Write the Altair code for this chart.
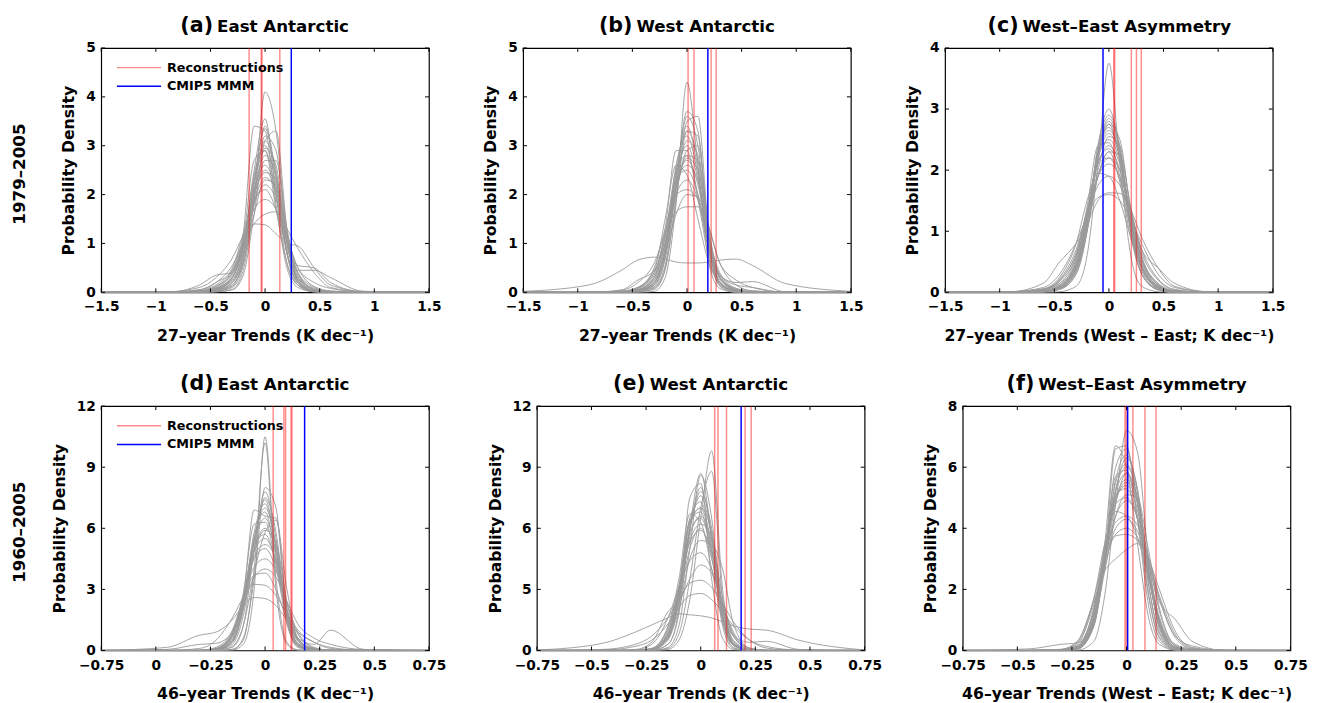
import altair as alt
import pandas as pd

FONT = "DejaVu Sans"

# ---------------- data ----------------
GRID_TOP = [-1.5, -0.9, -0.6, -0.45, -0.3, -0.2, -0.1, 0, 0.1, 0.2, 0.3, 0.45, 0.6, 0.9, 1.5]
GRID_BOT = [-0.75, -0.45, -0.3, -0.225, -0.15, -0.1, -0.05, 0, 0.05, 0.1, 0.15, 0.225, 0.3, 0.45, 0.75]

CURVES_A = [
    [0, 0, 0, 0.01, 0.06, 0.45, 1.9, 4.1, 3.3, 1.2, 0.25, 0.02, 0, 0, 0],
    [0, 0, 0.01, 0.05, 0.3, 1.2, 3.4, 3.3, 1.8, 0.5, 0.1, 0.01, 0, 0, 0],
    [0, 0, 0, 0.02, 0.12, 0.7, 2.2, 3.4, 2.4, 0.8, 0.15, 0.01, 0, 0, 0],
    [0, 0, 0, 0.02, 0.1, 0.55, 2.0, 3.2, 2.9, 1.1, 0.25, 0.02, 0, 0, 0],
    [0, 0, 0.01, 0.04, 0.2, 0.9, 2.4, 3.0, 2.2, 0.85, 0.2, 0.02, 0, 0, 0],
    [0, 0, 0, 0.03, 0.15, 0.6, 1.8, 2.7, 2.7, 1.3, 0.4, 0.05, 0, 0, 0],
    [0, 0, 0.02, 0.08, 0.35, 1.0, 2.1, 2.6, 2.1, 1.0, 0.35, 0.06, 0.01, 0, 0],
    [0, 0, 0.15, 0.35, 0.4, 0.9, 2.0, 2.5, 2.0, 0.8, 0.2, 0.03, 0, 0, 0],
    [0, 0, 0, 0.03, 0.15, 0.6, 1.6, 2.3, 2.2, 1.1, 0.45, 0.45, 0.3, 0.02, 0],
    [0, 0.01, 0.05, 0.15, 0.5, 1.2, 1.9, 2.1, 1.7, 0.9, 0.4, 0.1, 0.02, 0, 0],
    [0, 0, 0.03, 0.12, 0.45, 1.1, 1.7, 1.9, 1.7, 1.1, 0.5, 0.12, 0.03, 0, 0],
    [0, 0, 0.05, 0.2, 0.55, 1.0, 1.4, 1.6, 1.65, 1.3, 0.9, 0.4, 0.1, 0.01, 0],
    [0, 0.01, 0.1, 0.3, 0.7, 1.15, 1.4, 1.38, 1.2, 1.0, 0.95, 0.5, 0.15, 0.02, 0],
    [0, 0, 0, 0.01, 0.05, 0.35, 1.6, 3.1, 3.3, 1.3, 0.2, 0.01, 0, 0, 0],
    [0, 0, 0.05, 0.2, 0.45, 1.1, 2.7, 2.9, 1.7, 0.6, 0.15, 0.02, 0, 0, 0],
    [0, 0, 0.02, 0.08, 0.3, 0.9, 1.8, 2.2, 1.9, 1.0, 0.55, 0.5, 0.2, 0.01, 0],
    [0, 0, 0.01, 0.06, 0.25, 0.8, 2.2, 3.1, 2.5, 1.0, 0.25, 0.03, 0, 0, 0],
    [0, 0, 0, 0.03, 0.2, 0.75, 2.3, 3.35, 2.3, 0.8, 0.2, 0.02, 0, 0, 0],
    [0, 0, 0.02, 0.08, 0.3, 1.0, 2.3, 2.9, 2.0, 0.8, 0.3, 0.08, 0.02, 0, 0],
    [0, 0, 0.01, 0.05, 0.2, 0.7, 1.9, 2.95, 2.6, 1.1, 0.3, 0.03, 0, 0, 0],
    [0, 0, 0.02, 0.1, 0.4, 1.05, 2.0, 2.45, 2.3, 1.2, 0.4, 0.06, 0.01, 0, 0],
    [0, 0, 0.01, 0.06, 0.3, 0.95, 2.5, 3.55, 2.0, 0.6, 0.15, 0.02, 0, 0, 0],
    [0, 0, 0.03, 0.12, 0.4, 0.95, 1.85, 2.35, 2.1, 1.2, 0.5, 0.2, 0.08, 0.01, 0],
    [0, 0, 0.02, 0.07, 0.25, 0.8, 2.05, 2.8, 2.4, 1.05, 0.3, 0.05, 0.01, 0, 0],
]
CURVES_B = [
    [0, 0, 0, 0, 0.02, 0.3, 1.8, 4.3, 2.6, 0.6, 0.08, 0, 0, 0, 0],
    [0, 0, 0, 0.01, 0.08, 0.5, 1.9, 3.5, 3.6, 1.2, 0.2, 0.02, 0, 0, 0],
    [0, 0, 0, 0.02, 0.12, 0.7, 2.3, 3.6, 3.0, 1.0, 0.2, 0.02, 0, 0, 0],
    [0, 0, 0, 0.03, 0.2, 0.9, 2.6, 3.2, 2.4, 0.9, 0.2, 0.02, 0, 0, 0],
    [0, 0, 0.01, 0.05, 0.3, 1.3, 2.9, 2.9, 1.9, 0.7, 0.18, 0.02, 0, 0, 0],
    [0, 0, 0, 0.03, 0.18, 0.8, 2.1, 2.8, 2.7, 1.2, 0.3, 0.04, 0, 0, 0],
    [0, 0, 0, 0.04, 0.25, 0.9, 2.2, 2.7, 2.2, 1.0, 0.35, 0.2, 0.22, 0.01, 0],
    [0, 0, 0.01, 0.08, 0.4, 1.2, 2.3, 2.5, 2.0, 0.95, 0.3, 0.05, 0, 0, 0],
    [0, 0, 0.05, 0.25, 0.45, 1.0, 2.0, 2.3, 1.9, 0.9, 0.3, 0.05, 0, 0, 0],
    [0, 0, 0.02, 0.1, 0.5, 1.3, 2.0, 2.1, 1.9, 1.1, 0.4, 0.08, 0.01, 0, 0],
    [0, 0, 0.04, 0.2, 0.6, 1.2, 1.65, 1.75, 1.75, 1.3, 0.6, 0.15, 0.03, 0, 0],
    [0.02, 0.15, 0.45, 0.66, 0.72, 0.68, 0.62, 0.6, 0.6, 0.62, 0.66, 0.68, 0.55, 0.18, 0.02],
    [0, 0, 0, 0.01, 0.06, 0.45, 1.9, 3.3, 3.2, 1.0, 0.12, 0, 0, 0, 0],
    [0, 0, 0, 0.05, 0.25, 0.8, 1.6, 2.0, 1.95, 1.35, 0.6, 0.25, 0.1, 0, 0],
    [0, 0, 0.02, 0.1, 0.45, 1.5, 2.6, 2.4, 1.5, 0.6, 0.2, 0.03, 0, 0, 0],
    [0, 0, 0, 0.02, 0.1, 0.55, 2.2, 3.7, 3.3, 1.1, 0.15, 0.01, 0, 0, 0],
    [0, 0, 0, 0.03, 0.15, 0.7, 2.2, 3.1, 2.8, 1.0, 0.2, 0.03, 0, 0, 0],
    [0, 0, 0.01, 0.04, 0.2, 0.9, 2.5, 3.4, 2.5, 0.8, 0.15, 0.02, 0, 0, 0],
    [0, 0, 0, 0.02, 0.15, 0.75, 2.0, 2.9, 3.0, 1.3, 0.3, 0.05, 0, 0, 0],
    [0, 0, 0.01, 0.06, 0.3, 1.0, 2.4, 3.0, 2.3, 1.0, 0.3, 0.08, 0.03, 0, 0],
    [0, 0, 0.02, 0.1, 0.4, 1.1, 2.2, 2.6, 2.3, 1.1, 0.35, 0.06, 0.01, 0, 0],
    [0, 0, 0, 0.03, 0.2, 0.85, 2.4, 3.3, 2.7, 0.9, 0.2, 0.02, 0, 0, 0],
    [0, 0, 0.01, 0.05, 0.3, 1.0, 2.1, 2.75, 2.5, 1.15, 0.35, 0.15, 0.1, 0, 0],
    [0, 0, 0.02, 0.08, 0.35, 1.15, 2.5, 2.8, 2.0, 0.85, 0.25, 0.04, 0, 0, 0],
]
CURVES_C = [
    [0, 0, 0, 0.01, 0.1, 0.6, 2.1, 3.75, 2.1, 0.6, 0.1, 0.01, 0, 0, 0],
    [0, 0, 0.01, 0.05, 0.3, 1.0, 2.4, 3.0, 2.3, 1.0, 0.3, 0.04, 0, 0, 0],
    [0, 0, 0.01, 0.06, 0.35, 1.1, 2.4, 2.9, 2.4, 1.1, 0.35, 0.05, 0, 0, 0],
    [0, 0, 0.01, 0.05, 0.3, 1.0, 2.2, 2.75, 2.5, 1.3, 0.45, 0.06, 0, 0, 0],
    [0, 0, 0.02, 0.1, 0.45, 1.2, 2.2, 2.6, 2.2, 1.2, 0.45, 0.08, 0.01, 0, 0],
    [0, 0, 0.03, 0.15, 0.6, 1.4, 2.4, 2.45, 1.9, 1.0, 0.4, 0.08, 0.01, 0, 0],
    [0, 0, 0.02, 0.12, 0.5, 1.3, 2.1, 2.4, 2.1, 1.3, 0.55, 0.12, 0.02, 0, 0],
    [0, 0.01, 0.15, 0.5, 0.8, 1.1, 1.9, 2.3, 1.8, 0.9, 0.3, 0.05, 0, 0, 0],
    [0, 0, 0.01, 0.08, 0.4, 1.1, 1.9, 2.2, 2.0, 1.3, 0.7, 0.4, 0.15, 0.01, 0],
    [0, 0, 0.04, 0.2, 0.65, 1.3, 1.9, 2.1, 1.9, 1.3, 0.65, 0.2, 0.04, 0, 0],
    [0, 0, 0.05, 0.22, 0.7, 1.3, 1.75, 1.9, 1.75, 1.3, 0.7, 0.22, 0.05, 0, 0],
    [0, 0.01, 0.08, 0.3, 0.8, 1.25, 1.55, 1.6, 1.5, 1.2, 0.8, 0.3, 0.08, 0.01, 0],
    [0, 0, 0.05, 0.2, 0.6, 1.1, 1.5, 1.63, 1.62, 1.35, 0.9, 0.4, 0.1, 0.01, 0],
    [0, 0.01, 0.05, 0.15, 0.45, 1.2, 2.3, 2.7, 2.2, 1.0, 0.3, 0.04, 0, 0, 0],
    [0, 0, 0.01, 0.07, 0.35, 1.0, 1.9, 2.3, 2.25, 1.4, 0.6, 0.13, 0.02, 0, 0],
    [0, 0.01, 0.06, 0.25, 0.8, 1.5, 1.95, 1.9, 1.5, 0.9, 0.4, 0.08, 0.01, 0, 0],
    [0, 0, 0.01, 0.07, 0.4, 1.15, 2.3, 2.8, 2.3, 1.15, 0.4, 0.07, 0.01, 0, 0],
    [0, 0, 0.02, 0.09, 0.45, 1.2, 2.25, 2.65, 2.25, 1.15, 0.45, 0.1, 0.02, 0, 0],
    [0, 0, 0.01, 0.06, 0.35, 1.05, 2.3, 2.85, 2.35, 1.1, 0.4, 0.07, 0.01, 0, 0],
    [0, 0, 0.02, 0.1, 0.5, 1.25, 2.2, 2.5, 2.15, 1.2, 0.5, 0.1, 0.02, 0, 0],
    [0, 0, 0.03, 0.12, 0.55, 1.3, 2.15, 2.35, 2.0, 1.2, 0.55, 0.13, 0.02, 0, 0],
    [0, 0, 0.01, 0.08, 0.4, 1.1, 2.0, 2.55, 2.4, 1.35, 0.55, 0.1, 0.01, 0, 0],
    [0, 0.01, 0.04, 0.18, 0.6, 1.35, 2.1, 2.2, 1.85, 1.15, 0.55, 0.15, 0.03, 0, 0],
    [0, 0, 0.02, 0.1, 0.45, 1.2, 2.3, 2.75, 2.2, 1.05, 0.4, 0.1, 0.02, 0, 0],
]
CURVES_D = [
    [0, 0, 0, 0, 0.02, 0.3, 3.0, 10.5, 3.5, 0.4, 0.03, 0, 0, 0, 0],
    [0, 0, 0, 0, 0.05, 0.5, 4.0, 10.2, 3.0, 0.3, 0.02, 0, 0, 0, 0],
    [0, 0, 0, 0, 0.05, 0.6, 3.5, 8.0, 7.0, 1.5, 0.15, 0, 0, 0, 0],
    [0, 0, 0, 0.01, 0.15, 1.2, 5.0, 7.8, 5.5, 1.5, 0.2, 0.01, 0, 0, 0],
    [0, 0, 0, 0.02, 0.5, 2.5, 6.9, 6.6, 6.5, 2.0, 0.3, 0.02, 0, 0, 0],
    [0, 0, 0, 0.02, 0.4, 2.3, 5.8, 7.2, 5.0, 1.6, 0.25, 0.01, 0, 0, 0],
    [0, 0, 0, 0.05, 0.7, 2.8, 6.2, 6.3, 4.2, 1.3, 0.25, 0.02, 0, 0, 0],
    [0, 0, 0, 0.04, 0.5, 2.0, 4.8, 5.9, 5.3, 2.4, 0.6, 0.05, 0, 0, 0],
    [0, 0, 0, 0.08, 0.8, 2.6, 4.9, 5.5, 4.4, 2.0, 0.6, 0.06, 0, 0, 0],
    [0, 0, 0, 0.05, 0.7, 2.4, 4.5, 5.0, 4.0, 1.8, 0.6, 0.3, 1.0, 0.05, 0],
    [0, 0, 0.01, 0.15, 1.0, 2.6, 4.1, 4.5, 3.9, 2.3, 0.9, 0.15, 0.01, 0, 0],
    [0, 0, 0.1, 0.5, 1.6, 2.6, 3.25, 3.2, 2.7, 1.8, 1.0, 0.4, 0.1, 0, 0],
    [0, 0.15, 0.75, 0.9, 1.5, 2.2, 2.6, 2.55, 2.2, 1.5, 0.9, 0.4, 0.15, 0.01, 0],
    [0, 0, 0, 0.1, 0.8, 2.2, 3.6, 4.0, 3.6, 2.4, 1.3, 0.6, 0.3, 0.05, 0],
    [0, 0.05, 0.3, 0.35, 0.9, 2.4, 3.7, 3.8, 3.0, 1.5, 0.5, 0.1, 0.02, 0, 0],
    [0, 0, 0, 0.01, 0.2, 1.2, 3.8, 5.8, 6.4, 3.0, 0.6, 0.03, 0, 0, 0],
    [0, 0, 0, 0.03, 0.4, 2.0, 5.5, 7.0, 5.2, 1.8, 0.35, 0.02, 0, 0, 0],
    [0, 0, 0, 0.02, 0.3, 1.7, 5.0, 7.5, 5.8, 1.6, 0.25, 0.01, 0, 0, 0],
    [0, 0, 0, 0.05, 0.6, 2.4, 5.3, 6.5, 4.8, 1.9, 0.45, 0.04, 0, 0, 0],
    [0, 0, 0, 0.06, 0.7, 2.5, 5.0, 6.0, 4.9, 2.1, 0.5, 0.05, 0, 0, 0],
    [0, 0, 0, 0.04, 0.5, 2.2, 5.6, 6.8, 4.6, 1.6, 0.35, 0.03, 0, 0, 0],
    [0, 0, 0, 0.07, 0.8, 2.7, 5.2, 5.7, 4.3, 1.9, 0.55, 0.08, 0.01, 0, 0],
    [0, 0, 0, 0.03, 0.45, 2.1, 5.4, 7.4, 5.1, 1.5, 0.3, 0.02, 0, 0, 0],
    [0, 0, 0.01, 0.1, 0.9, 2.6, 4.6, 5.2, 4.5, 2.3, 0.8, 0.12, 0.02, 0, 0],
]
CURVES_E = [
    [0, 0, 0, 0, 0.05, 0.5, 2.5, 6.5, 9.8, 3.0, 0.3, 0, 0, 0, 0],
    [0, 0, 0, 0.01, 0.3, 2.0, 7.5, 8.2, 3.5, 0.6, 0.05, 0, 0, 0, 0],
    [0, 0, 0, 0, 0.15, 1.2, 5.0, 8.6, 6.5, 1.5, 0.15, 0, 0, 0, 0],
    [0, 0, 0, 0.01, 0.3, 1.8, 6.0, 8.7, 5.5, 1.2, 0.1, 0, 0, 0, 0],
    [0, 0, 0, 0, 0.1, 0.8, 3.5, 7.0, 8.8, 2.5, 0.3, 0, 0, 0, 0],
    [0, 0, 0, 0.03, 0.6, 2.6, 6.5, 7.3, 5.0, 1.6, 0.25, 0.01, 0, 0, 0],
    [0, 0, 0, 0.05, 0.8, 2.9, 6.2, 7.0, 5.8, 2.2, 0.4, 0.02, 0, 0, 0],
    [0, 0, 0, 0.1, 1.2, 3.5, 6.7, 6.3, 4.0, 1.4, 0.25, 0.01, 0, 0, 0],
    [0, 0, 0, 0.06, 0.8, 2.6, 5.4, 6.2, 5.6, 2.6, 0.7, 0.05, 0, 0, 0],
    [0, 0, 0, 0.05, 0.6, 2.0, 4.5, 5.4, 5.2, 4.0, 1.3, 0.1, 0, 0, 0],
    [0, 0, 0.02, 0.3, 1.6, 3.1, 4.4, 4.8, 4.0, 2.3, 0.9, 0.12, 0.01, 0, 0],
    [0, 0, 0.05, 0.4, 1.9, 2.4, 3.5, 4.2, 3.8, 2.2, 0.8, 0.1, 0, 0, 0],
    [0, 0.05, 0.3, 0.7, 1.6, 2.5, 3.3, 3.45, 3.1, 2.3, 1.4, 0.5, 0.12, 0, 0],
    [0.02, 0.35, 0.9, 1.25, 1.6, 1.8, 1.75, 1.7, 1.6, 1.4, 1.2, 1.05, 1.0, 0.5, 0.02],
    [0, 0.02, 0.2, 0.5, 1.3, 2.1, 2.7, 2.8, 2.5, 1.9, 1.2, 0.5, 0.2, 0.02, 0],
    [0, 0, 0, 0.04, 0.6, 2.3, 5.0, 6.0, 4.5, 2.0, 0.7, 0.4, 0.45, 0.05, 0],
    [0, 0, 0, 0.04, 0.7, 2.8, 6.0, 7.6, 5.5, 1.8, 0.3, 0.01, 0, 0, 0],
    [0, 0, 0, 0.05, 0.8, 3.0, 6.3, 7.0, 5.0, 1.7, 0.3, 0.02, 0, 0, 0],
    [0, 0, 0, 0.03, 0.5, 2.4, 6.0, 8.0, 5.6, 1.6, 0.25, 0.01, 0, 0, 0],
    [0, 0, 0, 0.06, 0.9, 3.2, 6.4, 6.8, 4.6, 1.6, 0.3, 0.02, 0, 0, 0],
    [0, 0, 0, 0.05, 0.7, 2.6, 5.6, 6.6, 5.3, 2.1, 0.45, 0.03, 0, 0, 0],
    [0, 0, 0, 0.08, 1.0, 3.0, 5.8, 6.5, 4.9, 2.0, 0.5, 0.04, 0, 0, 0],
    [0, 0, 0, 0.04, 0.6, 2.5, 5.9, 7.8, 6.0, 2.0, 0.35, 0.02, 0, 0, 0],
    [0, 0, 0.01, 0.1, 1.1, 3.1, 5.3, 5.9, 4.8, 2.3, 0.7, 0.08, 0.01, 0, 0],
]
CURVES_F = [
    [0, 0, 0, 0.01, 0.3, 1.8, 4.8, 7.2, 6.5, 3.0, 0.7, 0.03, 0, 0, 0],
    [0, 0, 0, 0.05, 0.8, 3.0, 6.6, 6.7, 4.3, 1.5, 0.3, 0.01, 0, 0, 0],
    [0, 0, 0, 0.06, 1.0, 3.5, 6.7, 6.0, 3.5, 1.1, 0.2, 0.01, 0, 0, 0],
    [0, 0, 0, 0.05, 0.8, 2.8, 5.3, 6.0, 5.2, 2.6, 0.8, 0.05, 0, 0, 0],
    [0, 0, 0.01, 0.1, 1.1, 3.0, 5.0, 5.6, 5.0, 2.9, 1.0, 0.08, 0, 0, 0],
    [0, 0, 0, 0.08, 0.9, 2.6, 4.4, 5.1, 5.0, 3.3, 1.4, 0.15, 0.01, 0, 0],
    [0, 0, 0.02, 0.15, 1.3, 3.0, 4.4, 4.9, 4.4, 3.0, 1.3, 0.15, 0.02, 0, 0],
    [0, 0, 0.02, 0.2, 1.7, 3.5, 4.55, 4.4, 3.7, 2.4, 1.0, 0.1, 0.01, 0, 0],
    [0, 0, 0.01, 0.12, 1.1, 2.7, 4.0, 4.3, 3.9, 2.8, 1.6, 1.0, 0.3, 0, 0],
    [0, 0, 0.03, 0.25, 1.5, 2.9, 3.8, 4.0, 3.7, 2.9, 1.7, 0.4, 0.05, 0, 0],
    [0, 0, 0.04, 0.3, 1.7, 3.1, 3.75, 3.8, 3.6, 2.9, 1.8, 0.5, 0.08, 0, 0],
    [0, 0, 0.03, 0.3, 1.6, 2.6, 3.0, 3.3, 3.5, 3.0, 2.0, 0.6, 0.1, 0, 0],
    [0, 0.05, 0.2, 0.25, 1.0, 2.8, 4.8, 5.8, 4.8, 2.5, 0.8, 0.06, 0, 0, 0],
    [0, 0, 0, 0.08, 1.0, 2.9, 5.2, 6.3, 5.3, 2.6, 0.9, 0.2, 0.05, 0.01, 0],
    [0, 0, 0.02, 0.15, 1.3, 3.0, 4.2, 4.4, 4.1, 3.1, 1.7, 0.45, 0.15, 0.01, 0],
    [0, 0, 0, 0.04, 0.8, 3.1, 5.7, 5.9, 4.3, 1.8, 0.4, 0.02, 0, 0, 0],
    [0, 0, 0, 0.06, 0.9, 3.0, 5.6, 6.4, 5.2, 2.2, 0.55, 0.03, 0, 0, 0],
    [0, 0, 0, 0.07, 1.0, 3.2, 5.5, 6.1, 4.9, 2.2, 0.6, 0.04, 0, 0, 0],
    [0, 0, 0.01, 0.1, 1.2, 3.2, 5.0, 5.4, 4.6, 2.5, 0.9, 0.08, 0, 0, 0],
    [0, 0, 0, 0.05, 0.9, 3.1, 6.0, 6.6, 4.8, 1.9, 0.45, 0.02, 0, 0, 0],
    [0, 0, 0.01, 0.12, 1.3, 3.3, 5.1, 5.3, 4.3, 2.4, 0.9, 0.1, 0.01, 0, 0],
    [0, 0, 0, 0.06, 0.95, 2.9, 5.2, 5.8, 5.0, 2.6, 0.8, 0.05, 0, 0, 0],
    [0, 0, 0.01, 0.09, 1.1, 3.0, 4.9, 5.5, 4.8, 2.7, 1.0, 0.1, 0.01, 0, 0],
    [0, 0, 0.02, 0.14, 1.4, 3.4, 4.8, 5.0, 4.3, 2.6, 1.1, 0.14, 0.02, 0, 0],
]

RECON_A = [-0.146, -0.035, -0.028, 0.135]
RECON_B = [0.010, 0.064, 0.221, 0.267]
RECON_C = [0.044, 0.053, 0.205, 0.252, 0.296]
RECON_D = [0.037, 0.086, 0.094, 0.119, 0.123]
RECON_E = [0.064, 0.079, 0.118, 0.203, 0.231]
RECON_F = [-0.007, -0.001, 0.029, 0.084, 0.135]
MMM = [0.24, 0.191, -0.054, 0.181, 0.185, 0.005]

XTICKS_TOP = [-1.5, -1, -0.5, 0, 0.5, 1, 1.5]
XTICKS_BOT = [-0.75, -0.5, -0.25, 0, 0.25, 0.5, 0.75]
YTICKS_A = [0, 1, 2, 3, 4, 5]
YTICKS_C = [0, 1, 2, 3, 4]
YTICKS_D = [0, 3, 6, 9, 12]
YTICKS_F = [0, 2, 4, 6, 8]

LETTERS = ["(a)", "(b)", "(c)", "(d)", "(e)", "(f)"]
NAMES = ["East Antarctic", "West Antarctic", "West\u2013East Asymmetry",
         "East Antarctic", "West Antarctic", "West\u2013East Asymmetry"]
XTITLES = ["27\u2013year Trends (K dec\u207b\u00b9)", "27\u2013year Trends (K dec\u207b\u00b9)",
           "27\u2013year Trends (West \u2013 East; K dec\u207b\u00b9)",
           "46\u2013year Trends (K dec\u207b\u00b9)", "46\u2013year Trends (K dec\u207b\u00b9)",
           "46\u2013year Trends (West \u2013 East; K dec\u207b\u00b9)"]
YTITLE = "Probability Density"
ROW_LABELS = ["1979\u20132005", "1960\u20132005"]
LEGEND_LABELS = ["Reconstructions", "CMIP5 MMM"]

# ---------------- style ----------------
W, H = 334, 249
GREY = "#999999"
RED = "#ff0000"
BLUE = "#0000ff"
PAREN_W = [33, 34, 32, 34, 33, 28]
NAME_W = [135, 141, 212, 135, 141, 212]


def panel(i, grid, curves, recon, mmm, xdom, xticks, ydom, yticks,
          row_label=None, legend=False, xexpr=None, yexpr=None):
    rows = []
    for k, c in enumerate(curves):
        for x, y in zip(grid, c):
            rows.append({"x": x, "y": y, "c": k})
    df = pd.DataFrame(rows)
    xs = alt.Scale(domain=xdom, nice=False, zero=False)
    ys = alt.Scale(domain=ydom, nice=False, zero=False)
    common = dict(labelFont=FONT, labelFontWeight="bold", labelFontSize=14,
                  labelColor="black", ticks=False, grid=False,
                  domain=False, titleFont=FONT, titleFontSize=16,
                  titleFontWeight="bold", titleColor="black",
                  labelOverlap=False, labelFlush=False)
    xaxis_kw = dict(common, values=xticks, format=".2~f", title=XTITLES[i],
                    labelPadding=8, titlePadding=14)
    if xexpr:
        xaxis_kw["labelExpr"] = xexpr
    yaxis_kw = dict(common, values=yticks, format="d", title=YTITLE,
                    labelPadding=6, titlePadding=9)
    if yexpr:
        yaxis_kw["labelExpr"] = yexpr
    xax = alt.Axis(**xaxis_kw)
    yax = alt.Axis(**yaxis_kw)

    def X(f):
        return alt.X(f, scale=xs, axis=xax)

    def Y(f):
        return alt.Y(f, scale=ys, axis=yax)

    lines = alt.Chart(df).mark_line(
        interpolate="monotone", color=GREY, strokeWidth=0.9
    ).encode(x=X("x:Q"), y=Y("y:Q"), detail="c:N")
    red = alt.Chart(pd.DataFrame({"v": recon})).mark_rule(
        color=RED, opacity=0.45, strokeWidth=1.5
    ).encode(x=X("v:Q"))
    blue = alt.Chart(pd.DataFrame({"v": [mmm]})).mark_rule(
        color=BLUE, strokeWidth=1.5
    ).encode(x=X("v:Q"))

    xt = pd.DataFrame({"v": xticks})
    yt = pd.DataFrame({"v": yticks})
    tk = dict(color="black", strokeWidth=1)
    t_bot = alt.Chart(xt).mark_rule(**tk).encode(
        x=X("v:Q"), y=alt.value(H), y2=alt.value(H - 4))
    t_top = alt.Chart(xt).mark_rule(**tk).encode(
        x=X("v:Q"), y=alt.value(0), y2=alt.value(4))
    t_left = alt.Chart(yt).mark_rule(**tk).encode(
        y=Y("v:Q"), x=alt.value(0), x2=alt.value(4))
    t_right = alt.Chart(yt).mark_rule(**tk).encode(
        y=Y("v:Q"), x=alt.value(W), x2=alt.value(W - 4))

    total = PAREN_W[i] + 4 + NAME_W[i]
    left = W / 2 - total / 2
    t1 = alt.Chart(pd.DataFrame({"t": [LETTERS[i]]})).mark_text(
        font=FONT, fontWeight="bold", fontSize=21, align="right",
        baseline="middle", color="black"
    ).encode(text="t:N", x=alt.value(left + PAREN_W[i]), y=alt.value(-22))
    t2 = alt.Chart(pd.DataFrame({"t": [NAMES[i]]})).mark_text(
        font=FONT, fontWeight="bold", fontSize=17, align="left",
        baseline="middle", color="black"
    ).encode(text="t:N", x=alt.value(left + PAREN_W[i] + 4), y=alt.value(-21))

    layers = [lines, red, blue, t_bot, t_top, t_left, t_right, t1, t2]

    if row_label:
        layers.append(alt.Chart(pd.DataFrame({"t": [row_label]})).mark_text(
            font=FONT, fontWeight="bold", fontSize=17, angle=270,
            align="center", baseline="middle", color="black"
        ).encode(text="t:N", x=alt.value(-83), y=alt.value(H / 2 + 4)))

    if legend:
        lr = alt.Chart(pd.DataFrame({"t": [LEGEND_LABELS[0]]})).mark_rule(
            color=RED, opacity=0.45, strokeWidth=1.5
        ).encode(x=alt.value(16), x2=alt.value(61), y=alt.value(20))
        lb = alt.Chart(pd.DataFrame({"t": [LEGEND_LABELS[1]]})).mark_rule(
            color=BLUE, strokeWidth=1.5
        ).encode(x=alt.value(16), x2=alt.value(61), y=alt.value(39))
        ltxt1 = alt.Chart(pd.DataFrame({"t": [LEGEND_LABELS[0]]})).mark_text(
            font=FONT, fontWeight="bold", fontSize=13, align="left",
            baseline="middle", color="black"
        ).encode(text="t:N", x=alt.value(67), y=alt.value(20))
        ltxt2 = alt.Chart(pd.DataFrame({"t": [LEGEND_LABELS[1]]})).mark_text(
            font=FONT, fontWeight="bold", fontSize=13, align="left",
            baseline="middle", color="black"
        ).encode(text="t:N", x=alt.value(67), y=alt.value(39))
        layers += [lr, lb, ltxt1, ltxt2]

    return alt.layer(*layers).properties(width=W, height=H)


pa = panel(0, GRID_TOP, CURVES_A, RECON_A, MMM[0], [-1.5, 1.5], XTICKS_TOP,
           [0, 5], YTICKS_A, row_label=ROW_LABELS[0], legend=True)
pb = panel(1, GRID_TOP, CURVES_B, RECON_B, MMM[1], [-1.5, 1.5], XTICKS_TOP,
           [0, 5], YTICKS_A)
pc = panel(2, GRID_TOP, CURVES_C, RECON_C, MMM[2], [-1.5, 1.5], XTICKS_TOP,
           [0, 4], YTICKS_C)
pd_ = panel(3, GRID_BOT, CURVES_D, RECON_D, MMM[3], [-0.75, 0.75], XTICKS_BOT,
            [0, 12], YTICKS_D, row_label=ROW_LABELS[1], legend=True,
            xexpr="datum.value == -0.5 ? '0' : datum.label")
pe = panel(4, GRID_BOT, CURVES_E, RECON_E, MMM[4], [-0.75, 0.75], XTICKS_BOT,
           [0, 12], YTICKS_D, yexpr="datum.value == 3 ? '5' : datum.label")
pf = panel(5, GRID_BOT, CURVES_F, RECON_F, MMM[5], [-0.75, 0.75], XTICKS_BOT,
           [0, 8], YTICKS_F)

top = alt.hconcat(pa, pb, pc, spacing=40)
bot = alt.hconcat(pd_, pe, pf, spacing=40)
chart = alt.vconcat(top, bot, spacing=29).properties(
    padding={"left": 2, "top": 0, "right": 5, "bottom": 5}
).configure_view(stroke="black", strokeWidth=1.2)

chart.save("out.html", embed_options={"renderer": "svg", "actions": False})
